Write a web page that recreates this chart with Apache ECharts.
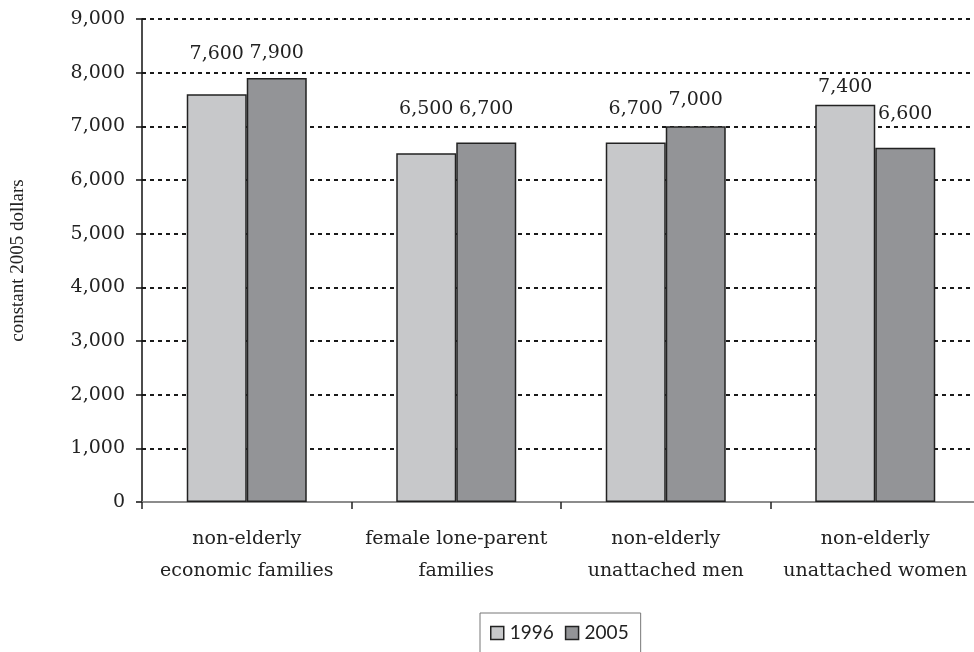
<!DOCTYPE html>
<html>
<head>
<meta charset="utf-8">
<script src="https://cdn.jsdelivr.net/npm/echarts@6/dist/echarts.min.js"></script>
<style>
  html, body { margin: 0; padding: 0; background: #fff; }
  #chart { width: 974px; height: 652px; }
</style>
</head>
<body>
<div id="chart"></div>
<script>
// Family types on the category axis
const categories = [
  'non-elderly\neconomic families',
  'female lone-parent\nfamilies',
  'non-elderly\nunattached men',
  'non-elderly\nunattached women'
];
const seriesNames = ['1996', '2005'];
const values1996 = [7600, 6500, 6700, 7400];
const values2005 = [7900, 6700, 7000, 6600];
const yTicks = [0, 1000, 2000, 3000, 4000, 5000, 6000, 7000, 8000, 9000];

// How far (px) each value label sits above its bar, per category
const labelLift1996 = [41, 45, 34, 18];
const labelLift2005 = [25, 34, 27, 34];

const serif = '"DejaVu Serif", serif';
const ink = '#222222';

function withLabels(values, lifts) {
  return values.map((v, i) => ({
    value: v,
    label: { distance: lifts[i] - 10 }
  }));
}

const fmt = v => v.toLocaleString('en-US');

const chart = echarts.init(document.getElementById('chart'), null, { renderer: 'canvas' });

chart.setOption({
  animation: false,
  backgroundColor: '#ffffff',
  grid: { left: 142, top: 19, width: 838, bottom: 150, containLabel: false, outerBoundsMode: 'none' },
  legend: {
    data: seriesNames,
    left: 480,
    top: 613,
    orient: 'horizontal',
    padding: [10, 12, 20, 10],
    itemWidth: 13,
    itemHeight: 13,
    itemGap: 11,
    borderColor: '#777',
    borderWidth: 1,
    icon: 'rect',
    itemStyle: { borderColor: '#222', borderWidth: 1.5 },
    textStyle: { fontFamily: 'Lato, "Open Sans", sans-serif', fontSize: 19, color: ink, lineHeight: 20, padding: [0, 0, 0, 1] }
  },
  xAxis: {
    type: 'category',
    data: categories,
    axisLine: { lineStyle: { color: '#8c8c8c', width: 2 } },
    axisTick: { show: true, length: 7, alignWithLabel: false, lineStyle: { color: '#222', width: 1.5 } },
    axisLabel: {
      margin: 21,
      fontFamily: serif,
      fontSize: 19,
      lineHeight: 32,
      color: ink,
      interval: 0
    },
    splitLine: { show: false }
  },
  yAxis: {
    type: 'value',
    min: yTicks[0],
    max: yTicks[yTicks.length - 1],
    interval: 1000,
    name: 'constant 2005 dollars',
    nameLocation: 'middle',
    nameRotate: 90,
    nameGap: 114,
    nameTextStyle: { fontFamily: '"Liberation Serif", serif', fontSize: 19, color: ink },
    axisLine: { show: true, lineStyle: { color: '#111', width: 1.5 } },
    axisTick: { show: true, length: 6, lineStyle: { color: '#111', width: 1.5 } },
    axisLabel: {
      margin: 17,
      fontFamily: serif,
      fontSize: 19,
      color: ink,
      formatter: v => fmt(v)
    },
    splitLine: { show: true, lineStyle: { color: '#1a1a1a', width: 2, type: [4, 4] } }
  },
  series: [
    {
      name: seriesNames[0],
      type: 'bar',
      barWidth: 60,
      barGap: '0%',
      data: withLabels(values1996, labelLift1996),
      itemStyle: { color: '#c7c8ca', borderColor: '#222', borderWidth: 1.5 },
      label: {
        show: true,
        position: 'top',
        fontFamily: serif,
        fontSize: 19,
        color: ink,
        formatter: p => fmt(p.value)
      }
    },
    {
      name: seriesNames[1],
      type: 'bar',
      barWidth: 60,
      barGap: '0%',
      data: withLabels(values2005, labelLift2005),
      itemStyle: { color: '#939497', borderColor: '#222', borderWidth: 1.5 },
      label: {
        show: true,
        position: 'top',
        fontFamily: serif,
        fontSize: 19,
        color: ink,
        formatter: p => fmt(p.value)
      }
    }
  ]
});
</script>
</body>
</html>
